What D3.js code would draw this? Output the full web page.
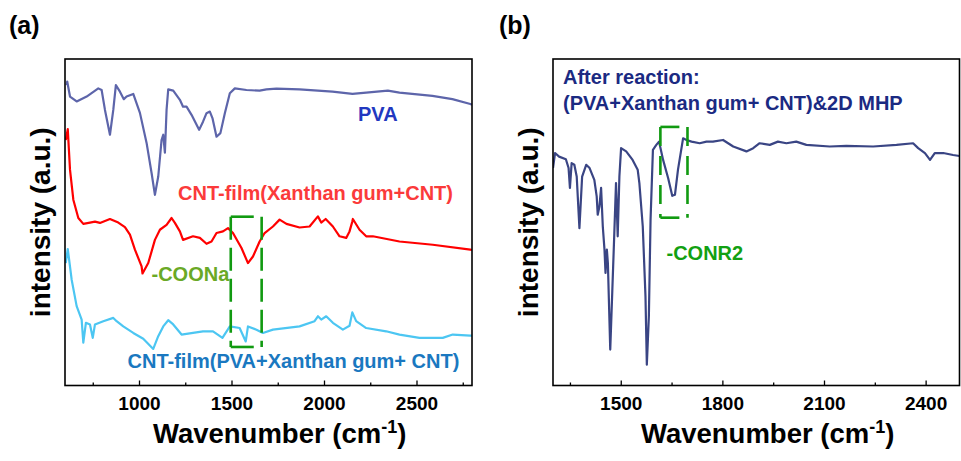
<!DOCTYPE html>
<html><head><meta charset="utf-8">
<script src="https://cdn.jsdelivr.net/npm/d3@7"></script>
<style>
body{margin:0;background:#fff}
svg{display:block}
text{font-family:"Liberation Sans",Arial,Helvetica,sans-serif;font-weight:bold}
</style>
</head><body><svg id="c" width="961" height="461"></svg>
<script>
// ---------- data (wavenumber cm^-1, intensity a.u.) ----------
const pvaSeries = [[609,92.0],[612,93.1],[627,88.5],[663,87.0],[717,88.5],[780,91.0],[798,90.5],[816,84.4],[843,76.8],[861,84.4],[875,92.0],[897,90.0],[918,87.7],[933,88.5],[969,89.3],[1005,83.5],[1041,74.3],[1068,65.1],[1086,58.4],[1104,64.0],[1122,75.2],[1131,76.8],[1140,71.3],[1149,84.4],[1158,90.7],[1185,90.3],[1221,87.5],[1238,85.4],[1257,85.4],[1284,82.9],[1325,78.3],[1346,80.8],[1365,83.4],[1383,83.9],[1397,81.9],[1419,76.2],[1440,77.3],[1464,83.4],[1491,89.5],[1518,91.0],[1581,90.5],[1652,90.3],[1689,90.7],[1743,90.9],[1868,90.7],[2046,90.0],[2154,89.3],[2228,89.7],[2345,90.3],[2408,89.7],[2586,88.7],[2694,87.7],[2791,86.2],[2800,86.0]];

const xanthanCntSeries = [[604,75.2],[615,78.5],[627,66.1],[645,56.9],[672,51.3],[699,49.5],[735,49.9],[762,50.2],[789,49.8],[843,51.0],[888,49.9],[924,48.5],[951,46.2],[978,41.6],[1014,36.5],[1019,34.3],[1050,37.5],[1086,44.6],[1113,47.7],[1149,49.2],[1176,51.3],[1194,49.8],[1221,47.2],[1238,44.6],[1292,45.7],[1329,45.2],[1365,43.4],[1392,44.1],[1419,46.7],[1454,47.2],[1481,48.2],[1508,46.7],[1554,42.1],[1589,37.5],[1616,39.5],[1652,44.1],[1679,46.7],[1724,48.7],[1760,50.8],[1797,49.5],[1868,48.4],[1922,48.7],[1967,51.8],[1985,49.9],[2009,51.0],[2030,49.8],[2048,48.7],[2084,45.7],[2120,45.2],[2138,47.2],[2153,50.2],[2156,51.0],[2192,47.7],[2228,45.7],[2264,45.7],[2408,44.1],[2588,43.1],[2791,41.6],[2800,41.5]];

const pvaXanthanCntSeries = [[604,37.5],[615,41.8],[636,32.4],[663,24.3],[690,20.2],[699,13.1],[713,19.2],[735,18.7],[750,14.6],[762,18.7],[807,19.7],[861,20.7],[879,19.7],[915,18.1],[969,16.1],[1023,14.3],[1077,11.2],[1104,15.1],[1131,18.1],[1158,20.0],[1185,18.7],[1230,15.6],[1292,16.1],[1346,16.6],[1400,16.6],[1451,14.6],[1491,18.1],[1544,17.6],[1577,13.5],[1589,18.1],[1635,17.1],[1670,16.1],[1724,17.1],[1868,18.1],[1949,19.7],[1967,21.2],[1985,20.2],[2012,21.2],[2048,19.2],[2102,17.1],[2138,18.3],[2153,22.4],[2174,19.7],[2228,17.6],[2336,16.6],[2408,15.6],[2516,14.6],[2642,14.6],[2696,15.6],[2791,15.3],[2800,15.3]];

const mhpSeries = [[1300,66.6],[1306,71.2],[1318,70.1],[1338,69.3],[1346,66.6],[1350,60.5],[1355,68.1],[1363,67.6],[1370,64.0],[1378,48.2],[1386,64.0],[1398,67.6],[1408,66.6],[1422,63.0],[1429,57.9],[1432,52.3],[1437,54.8],[1442,60.5],[1447,48.7],[1452,41.6],[1455,34.5],[1459,41.6],[1462,37.5],[1469,11.0],[1475,28.8],[1481,46.7],[1486,62.0],[1491,45.7],[1496,64.0],[1501,72.7],[1516,71.7],[1535,69.1],[1550,66.1],[1555,62.0],[1565,48.7],[1573,27.3],[1577,6.4],[1583,21.2],[1588,50.8],[1595,72.2],[1605,73.7],[1613,74.7],[1625,69.1],[1640,63.5],[1652,58.1],[1660,58.4],[1669,66.1],[1684,75.7],[1694,75.2],[1709,74.7],[1733,74.2],[1753,74.7],[1772,74.7],[1802,75.2],[1832,73.2],[1871,71.7],[1891,72.7],[1910,74.2],[1940,73.7],[1964,74.7],[1989,74.2],[2018,74.7],[2048,73.7],[2117,73.2],[2166,73.4],[2245,73.2],[2314,73.7],[2363,74.2],[2378,72.7],[2398,71.2],[2413,69.1],[2427,71.2],[2452,71.2],[2481,70.6],[2500,70.3]];

const ticksA = [1000, 1500, 2000, 2500];
const minorTicksA = [750, 1250, 1750, 2250, 2750];
const ticksB = [1500, 1800, 2100, 2400];
const minorTicksB = [1350, 1650, 1950, 2250];

const seriesLabelsA = ["PVA", "CNT-film(Xanthan gum+CNT)", "CNT-film(PVA+Xanthan gum+ CNT)"];
const groupLabelA = "-COONa";
const seriesLabelsB = ["After reaction:", "(PVA+Xanthan gum+ CNT)&2D MHP"];
const groupLabelB = "-CONR2";
// highlight boxes: [x0, x1, y0, y1] in data units
const boxA = [1496, 1663, 11.8, 51.7];
const boxB = [1617, 1697, 51.4, 79.2];

// ---------- drawing ----------
const svg = d3.select("#c");
svg.append("rect").attr("width", 961).attr("height", 461).attr("fill", "#fff");

function panel(cfg) {
  const x = d3.scaleLinear().domain(cfg.domain).range([cfg.left, cfg.right]);
  const y = d3.scaleLinear().domain([0, 100]).range([cfg.bottom, cfg.top]);
  const g = svg.append("g");
  const clipId = "clip" + cfg.id;
  svg.append("clipPath").attr("id", clipId).append("rect")
    .attr("x", cfg.left).attr("y", cfg.top)
    .attr("width", cfg.right - cfg.left).attr("height", cfg.bottom - cfg.top);

  const line = d3.line().x(d => x(d[0])).y(d => y(d[1]));
  cfg.series.forEach(s => {
    g.append("path").datum(s.data)
      .attr("clip-path", `url(#${clipId})`)
      .attr("fill", "none").attr("stroke", s.color)
      .attr("stroke-width", 2.2).attr("stroke-linejoin", "round")
      .attr("d", line);
  });

  // dashed box
  const b = cfg.box;
  const bx0 = x(b[0]), bx1 = x(b[1]), by0 = y(b[3]), by1 = y(b[2]);
  const sides = [[bx0, by0, bx1, by0], [bx1, by0, bx1, by1], [bx0, by0, bx0, by1], [bx0, by1, bx1, by1]];
  sides.forEach(s => g.append("line")
    .attr("x1", s[0]).attr("y1", s[1]).attr("x2", s[2]).attr("y2", s[3])
    .attr("stroke", "#119a11").attr("stroke-width", 2.6)
    .attr("stroke-dasharray", cfg.dash));

  // axis (inward ticks)
  const ax = g.append("g").attr("transform", `translate(0,${cfg.bottom})`)
    .call(d3.axisBottom(x).tickValues(cfg.ticks).tickSize(-5).tickPadding(11).tickFormat(d3.format("d")));
  ax.select(".domain").remove();
  ax.selectAll(".tick line").attr("stroke", "#000").attr("stroke-width", 1.3);
  ax.selectAll("text").attr("font-size", 19).attr("fill", "#000")
    .attr("font-family", '"Liberation Sans",Arial,sans-serif').attr("font-weight", "bold");
  const mx = g.append("g").attr("transform", `translate(0,${cfg.bottom})`)
    .call(d3.axisBottom(x).tickValues(cfg.minor).tickSize(-3).tickFormat(""));
  mx.select(".domain").remove();
  mx.selectAll(".tick line").attr("stroke", "#000").attr("stroke-width", 1.3);

  // frame
  g.append("rect").attr("x", cfg.left).attr("y", cfg.top)
    .attr("width", cfg.right - cfg.left).attr("height", cfg.bottom - cfg.top)
    .attr("fill", "none").attr("stroke", "#000").attr("stroke-width", 1.6);

  // x label
  const xl = g.append("text").attr("x", cfg.left + 88).attr("y", 442.5)
    .attr("font-size", 27.5).attr("fill", "#000");
  xl.append("tspan").text("Wavenumber (cm");
  xl.append("tspan").attr("font-size", 18).attr("dy", -10).text("-1");
  xl.append("tspan").attr("dy", 10).text(")");

  // y label
  g.append("text").attr("transform", `translate(${cfg.left - 15},${(cfg.top + cfg.bottom) / 2}) rotate(-90)`)
    .attr("text-anchor", "middle").attr("font-size", 28).attr("fill", "#000")
    .text("intensity (a.u.)");

  // panel letter
  g.append("text").attr("x", cfg.letterX).attr("y", 34).attr("font-size", 25).attr("fill", "#000").text(cfg.letter);

  cfg.labels.forEach(l => g.append("text").attr("x", l.x).attr("y", l.y)
    .attr("font-size", 20).attr("fill", l.color).text(l.text));
}

panel({
  id: "a", letter: "(a)", letterX: 9,
  left: 65, right: 472, top: 59, bottom: 385.5,
  domain: [600, 2800], ticks: ticksA, minor: minorTicksA,
  series: [
    {data: pvaSeries, color: "#5d65aa"},
    {data: xanthanCntSeries, color: "#ff0000"},
    {data: pvaXanthanCntSeries, color: "#4cc6f2"}
  ],
  box: boxA, dash: "23,8",
  labels: [
    {text: seriesLabelsA[0], x: 358, y: 121, color: "#2238c0"},
    {text: seriesLabelsA[1], x: 178, y: 200, color: "#fb3a3a"},
    {text: groupLabelA, x: 151.5, y: 281, color: "#6aa926"},
    {text: seriesLabelsA[2], x: 127.5, y: 367.5, color: "#1a78c0"}
  ]
});

panel({
  id: "b", letter: "(b)", letterX: 499,
  left: 553, right: 959.5, top: 59, bottom: 385.5,
  domain: [1300, 2500], ticks: ticksB, minor: minorTicksB,
  series: [
    {data: mhpSeries, color: "#3a4584"}
  ],
  box: boxB, dash: "19,10",
  labels: [
    {text: seriesLabelsB[0], x: 563, y: 84, color: "#1b2a82"},
    {text: seriesLabelsB[1], x: 563, y: 110, color: "#1b2a82"},
    {text: groupLabelB, x: 666.5, y: 260, color: "#12a012"}
  ]
});
</script>
</body></html>
